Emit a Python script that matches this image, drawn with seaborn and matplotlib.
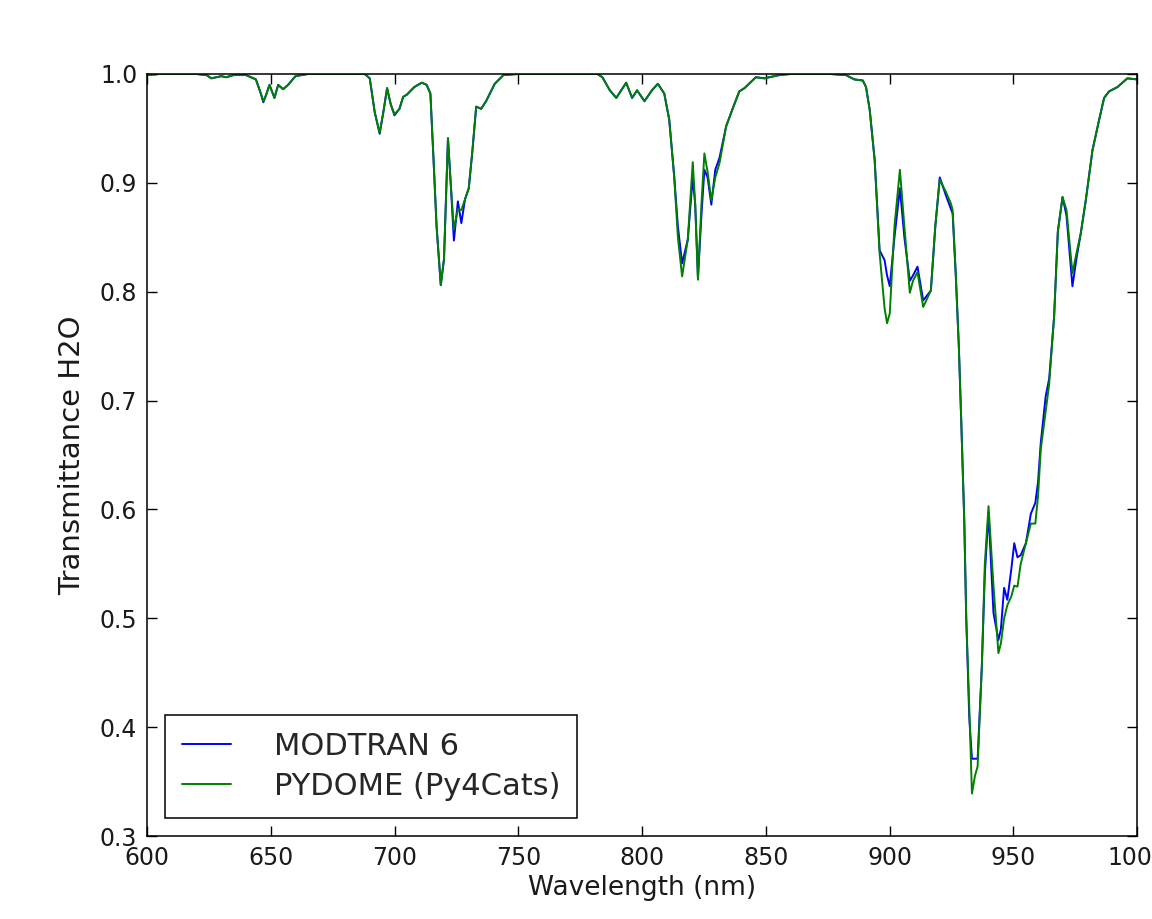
import matplotlib
matplotlib.use('Agg')
import matplotlib.pyplot as plt
import seaborn as sns
import numpy as np
import pandas as pd

# --- valores --- #
wavelength = [
    600, 605, 620, 624, 626, 628, 630, 632, 635, 640, 644, 646, 647, 648, 649.5,
    651.5, 653, 655, 657, 660, 665, 688, 690, 692, 694, 695.5, 697, 698.5, 700,
    702, 703.5, 705, 708, 711, 713, 714.5, 715.8, 717, 718.7, 720, 721.6, 722.7,
    724, 725.6, 727, 728.5, 730, 731.5, 733, 735, 737, 740.5, 744, 750, 782, 784,
    787, 789.6, 793.6, 796, 798, 801, 804, 806.4, 809, 811, 813, 814.5, 816.2,
    818.5, 820.5, 821.5, 822.6, 824, 825.2, 826.5, 828, 829.6, 831.3, 834, 836.6,
    839.3, 841.4, 846, 849.4, 855.5, 860, 876, 882.4, 885.8, 889.2, 890.5, 892,
    894, 896, 898, 899, 900.1, 902, 904.2, 906, 908.2, 909.5, 911.3, 913.6,
    916.7, 918.5, 920.3, 922.7, 924.8, 925.5, 926.8, 928, 929, 930.2, 931, 932.2,
    933.3, 934.5, 935.6, 937.3, 938.5, 940, 942, 944, 945, 946.3, 947.6, 949.2,
    950.4, 951.7, 953, 955.1, 957.1, 958.9, 960, 961.1, 963.1, 964.5, 966.5, 968,
    969.9, 971.5, 973.9, 975.5, 977.3, 979.3, 982, 984.7, 986.7, 988.7, 992.1,
    996.1, 1000,
]

modtran = [
    0.999, 1.0, 1.0, 0.999, 0.996, 0.997, 0.998, 0.997, 0.999, 0.999, 0.995,
    0.982, 0.974, 0.980, 0.990, 0.978, 0.990, 0.986, 0.990, 0.998, 1.0, 1.0,
    0.996, 0.965, 0.945, 0.965, 0.987, 0.972, 0.962, 0.968, 0.979, 0.981, 0.988,
    0.992, 0.990, 0.982, 0.920, 0.860, 0.806, 0.830, 0.941, 0.900, 0.847, 0.883,
    0.863, 0.885, 0.895, 0.930, 0.970, 0.968, 0.975, 0.991, 0.999, 1.0, 1.0,
    0.997, 0.985, 0.978, 0.992, 0.978, 0.985, 0.975, 0.985, 0.991, 0.982, 0.958,
    0.906, 0.860, 0.826, 0.848, 0.905, 0.880, 0.813, 0.870, 0.912, 0.905, 0.880,
    0.912, 0.923, 0.952, 0.968, 0.984, 0.987, 0.997, 0.996, 0.999, 1.0, 1.0,
    0.999, 0.995, 0.994, 0.988, 0.967, 0.921, 0.838, 0.829, 0.815, 0.805, 0.850,
    0.895, 0.850, 0.810, 0.815, 0.823, 0.792, 0.801, 0.860, 0.905, 0.889, 0.876,
    0.872, 0.814, 0.750, 0.680, 0.590, 0.500, 0.410, 0.371, 0.371, 0.371, 0.456,
    0.540, 0.597, 0.505, 0.480, 0.490, 0.528, 0.517, 0.545, 0.569, 0.556, 0.558,
    0.569, 0.596, 0.606, 0.625, 0.661, 0.704, 0.720, 0.777, 0.855, 0.887, 0.870,
    0.805, 0.830, 0.854, 0.884, 0.930, 0.958, 0.978, 0.984, 0.988, 0.996, 0.995,
]

pydome = [
    0.999, 1.0, 1.0, 0.999, 0.996, 0.997, 0.998, 0.997, 0.999, 0.999, 0.995,
    0.982, 0.975, 0.980, 0.990, 0.978, 0.990, 0.986, 0.990, 0.998, 1.0, 1.0,
    0.996, 0.965, 0.946, 0.965, 0.987, 0.972, 0.963, 0.968, 0.979, 0.981, 0.988,
    0.992, 0.990, 0.982, 0.920, 0.860, 0.806, 0.830, 0.941, 0.900, 0.857, 0.876,
    0.875, 0.885, 0.895, 0.930, 0.970, 0.968, 0.975, 0.991, 0.999, 1.0, 1.0,
    0.997, 0.985, 0.978, 0.992, 0.978, 0.985, 0.975, 0.985, 0.991, 0.982, 0.958,
    0.906, 0.850, 0.814, 0.848, 0.919, 0.880, 0.811, 0.880, 0.927, 0.910, 0.884,
    0.905, 0.918, 0.952, 0.968, 0.984, 0.987, 0.997, 0.996, 0.999, 1.0, 1.0,
    0.999, 0.995, 0.994, 0.988, 0.967, 0.921, 0.835, 0.785, 0.771, 0.780, 0.860,
    0.912, 0.860, 0.799, 0.810, 0.818, 0.786, 0.801, 0.860, 0.903, 0.892, 0.881,
    0.875, 0.814, 0.750, 0.680, 0.590, 0.500, 0.420, 0.339, 0.355, 0.364, 0.456,
    0.550, 0.603, 0.530, 0.468, 0.477, 0.500, 0.512, 0.520, 0.530, 0.529, 0.550,
    0.569, 0.587, 0.587, 0.612, 0.655, 0.690, 0.715, 0.777, 0.855, 0.887, 0.875,
    0.817, 0.835, 0.854, 0.884, 0.930, 0.958, 0.978, 0.984, 0.988, 0.996, 0.995,
]

series_names = ['MODTRAN 6', 'PYDOME (Py4Cats)']
x_ticks = [600, 650, 700, 750, 800, 850, 900, 950, 1000]
y_ticks = [0.3, 0.4, 0.5, 0.6, 0.7, 0.8, 0.9, 1.0]

df = pd.DataFrame({
    'Wavelength (nm)': wavelength * 2,
    'Transmittance H2O': modtran + pydome,
    'modelo': [series_names[0]] * len(wavelength) + [series_names[1]] * len(wavelength),
})

sns.set_style('ticks')
plt.rcParams['font.family'] = ['DejaVu Sans']
plt.rcParams['xtick.direction'] = 'in'
plt.rcParams['ytick.direction'] = 'in'

fig = plt.figure(figsize=(11.52, 9.19), dpi=100)
ax = fig.add_axes([0.1276, 0.0903, 0.8594, 0.8292])

sns.lineplot(data=df, x='Wavelength (nm)', y='Transmittance H2O', hue='modelo',
             palette={series_names[0]: '#0000ff', series_names[1]: '#008000'},
             linewidth=1.4, ax=ax, sort=False, estimator=None)

ax.set_xlim(600, 1000)
ax.set_ylim(0.3, 1.0)
ax.set_xticks(x_ticks)
ax.set_xticklabels([str(t) for t in x_ticks])
ax.set_yticks(y_ticks)
ax.set_yticklabels(['%.1f' % t for t in y_ticks])
ax.tick_params(axis='both', which='both', top=True, right=True, length=7,
               width=1, labelsize=17, color='black', labelcolor='#1a1a1a', pad=7)
for s in ax.spines.values():
    s.set_color('black')
    s.set_linewidth(1.1)
ax.set_xlabel('Wavelength (nm)', fontsize=19, color='#1a1a1a', labelpad=4)
ax.set_ylabel('Transmittance H2O', fontsize=21, color='#1a1a1a', labelpad=10)

leg = ax.legend(loc='lower left', fontsize=22, frameon=True, fancybox=False,
                edgecolor='black', framealpha=1, handlelength=1.6,
                handletextpad=1.4, borderpad=0.55, borderaxespad=0.6,
                labelspacing=0.35)
leg.get_frame().set_linewidth(1.1)
for line in leg.get_lines():
    line.set_linewidth(1.4)

plt.savefig('out.png', dpi=100)
plt.close()
